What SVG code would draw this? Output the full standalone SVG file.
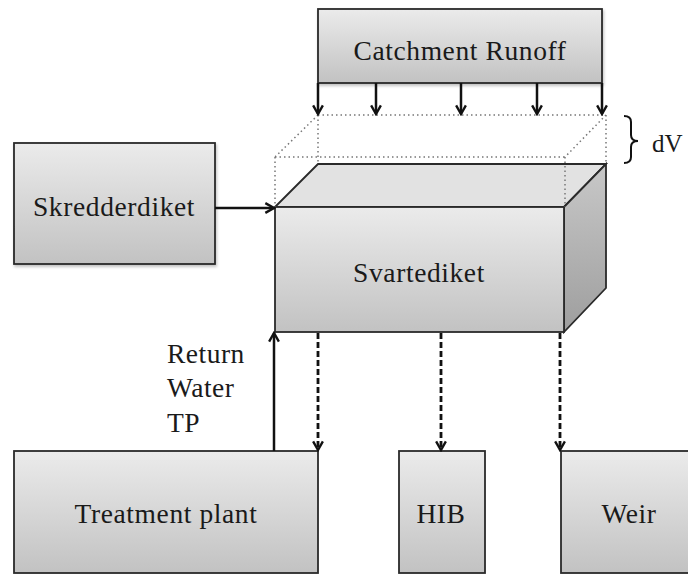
<svg xmlns="http://www.w3.org/2000/svg" width="688" height="574" viewBox="0 0 688 574">
<defs>
<linearGradient id="g" x1="0" y1="0" x2="0" y2="1">
<stop offset="0" stop-color="#ebebeb"/>
<stop offset="1" stop-color="#c2c2c2"/>
</linearGradient>
<linearGradient id="gside" x1="0" y1="0" x2="0" y2="1">
<stop offset="0" stop-color="#c8c8c8"/>
<stop offset="1" stop-color="#9e9e9e"/>
</linearGradient>
<marker id="ah" viewBox="0 0 12 12" refX="10" refY="6" markerWidth="13" markerHeight="13" markerUnits="userSpaceOnUse" orient="auto">
<path d="M2,1.5 L10,6 L2,10.5" fill="none" stroke="#111" stroke-width="2.2"/>
</marker>
<filter id="sh" x="-5%" y="-5%" width="112%" height="112%">
<feGaussianBlur in="SourceAlpha" stdDeviation="1.5"/>
<feOffset dx="1" dy="2"/>
<feComponentTransfer><feFuncA type="linear" slope="0.25"/></feComponentTransfer>
<feMerge><feMergeNode/><feMergeNode in="SourceGraphic"/></feMerge>
</filter>
</defs>
<style>
.box{fill:url(#g);stroke:#2a2a2a;stroke-width:1.8;}
text{font-family:"Liberation Serif","DejaVu Serif","Times New Roman",serif;fill:#1a1a1a;}
.lbl{font-size:27.5px;letter-spacing:0.6px;text-anchor:middle;}
.sm{font-size:27.5px;letter-spacing:0.5px;}
.dv{font-size:25px;}
.dot{fill:none;stroke:#777;stroke-width:1.5;stroke-dasharray:1.5 3;}
.arr{fill:none;stroke:#111;stroke-width:2.5;marker-end:url(#ah);}
.dash{fill:none;stroke:#111;stroke-width:2.8;stroke-dasharray:6 3;marker-end:url(#ah);}
</style>

<g id="catchment">
<rect class="box" x="318" y="9" width="284" height="74" filter="url(#sh)"/>
<text class="lbl" x="460" y="60">Catchment Runoff</text>
</g>

<g id="skredderdiket">
<rect class="box" x="14" y="143" width="201" height="121" filter="url(#sh)"/>
<text class="lbl" x="114" y="216">Skredderdiket</text>
</g>

<g id="svartediket">
<polygon points="275,207 318,164 606,164 564,207" fill="#e2e2e2" stroke="#2a2a2a" stroke-width="1.8"/>
<polygon points="564,207 606,164 606,288 564,332" fill="url(#gside)" stroke="#2a2a2a" stroke-width="1.8"/>
<rect class="box" x="275" y="207" width="289" height="125"/>
<text class="lbl" x="419" y="282">Svartediket</text>
</g>

<g id="dv">
<path class="dot" d="M318,115 H606 M275,157 H565 M318,115 L275,157 M606,115 L565,157 M318,115 V164 M606,115 V164 M275,157 V207 M565,157 V207"/>
<path d="M624,116 Q631,116 631,122 V135 Q631,141 638,141 Q631,141 631,147 V157 Q631,163 624,163" fill="none" stroke="#111" stroke-width="2"/>
<text class="dv" x="652" y="152">dV</text>
</g>

<g id="treatment">
<rect class="box" x="14" y="451" width="304" height="122"/>
<text class="lbl" x="166" y="523">Treatment plant</text>
</g>

<g id="hib">
<rect class="box" x="399" y="451" width="86" height="122"/>
<text class="lbl" x="441" y="523">HIB</text>
</g>

<g id="weir">
<rect class="box" x="561" y="451" width="130" height="122"/>
<text class="lbl" x="629" y="523">Weir</text>
</g>

<g id="connectors">
<path class="arr" d="M318,83 V114"/>
<path class="arr" d="M376,83 V114"/>
<path class="arr" d="M461,83 V114"/>
<path class="arr" d="M537,83 V114"/>
<path class="arr" d="M602,83 V114"/>
<path class="arr" d="M215,208 H274"/>
<path class="arr" d="M274,451 V333"/>
<path class="dash" d="M318,333 V450"/>
<path class="dash" d="M441,333 V450"/>
<path class="dash" d="M560,333 V450"/>
<text class="sm" x="167" y="363">Return</text>
<text class="sm" x="167" y="397">Water</text>
<text class="sm" x="167" y="432">TP</text>
</g>
</svg>
